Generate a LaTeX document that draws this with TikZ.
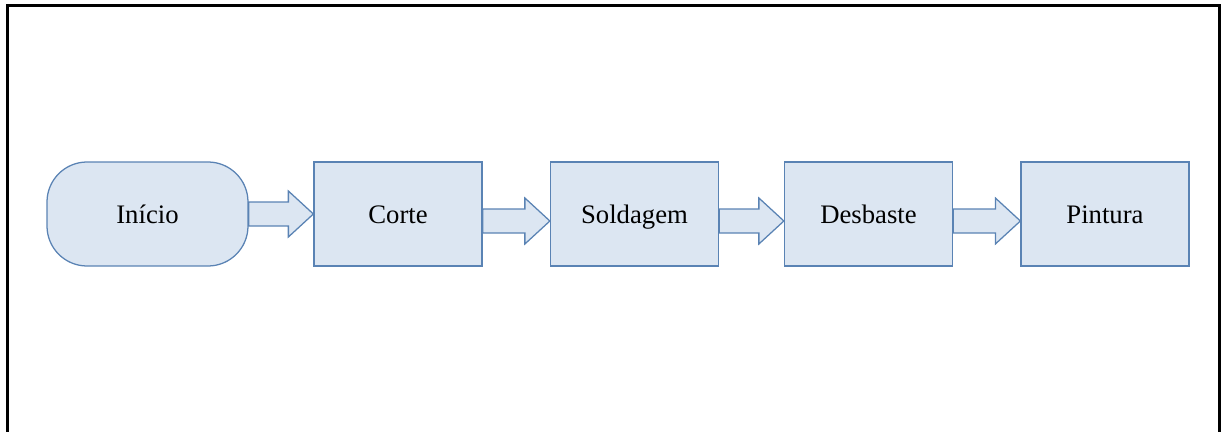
\documentclass[tikz,border=0pt]{standalone}
\usepackage{fontspec}
\setmainfont{Liberation Serif}
\usetikzlibrary{calc}
\definecolor{fundo}{RGB}{220,230,242}
\definecolor{borda}{RGB}{90,131,180}
\tikzset{
  etapa/.style={draw=borda,fill=fundo,line width=0.9pt,minimum width=4.2cm,minimum height=2.6cm,
    text height=0.5cm,text depth=0.05cm,font=\fontsize{19}{22}\selectfont},
  inicio/.style={etapa,minimum width=5.025cm,rounded corners=1cm},
  setabloco/.style={draw=borda,fill=fundo,line width=0.9pt,line join=miter}
}
% seta larga entre duas etapas: origem, destino, desvio vertical
\newcommand\seta[3]{%
  \path ($(#1.east)+(0,#3)$) coordinate (ini) ($(#2.west)+(0,#3)$) coordinate (fim);
  \draw[setabloco] ($(ini)+(0,0.3)$) -- ($(fim)+(-0.625,0.3)$) -- ($(fim)+(-0.625,0.575)$)
    -- (fim) -- ($(fim)+(-0.625,-0.575)$) -- ($(fim)+(-0.625,-0.3)$) -- ($(ini)+(0,-0.3)$) -- cycle;}

\begin{document}
\begin{tikzpicture}
  \useasboundingbox (0,0) rectangle (30.55,-10.8);
  % moldura aberta embaixo
  \draw[line width=2.5pt] (0.1875,-10.8) -- (0.1875,-0.1375) -- (30.4875,-0.1375) -- (30.4875,-10.8);

  \node[inicio] (INICIO) at (3.6875,-5.35) {Início};
  \node[etapa] (CORTE) at (9.95,-5.35) {Corte};
  \node[etapa] (SOLDA) at (15.8625,-5.35) {Soldagem};
  \node[etapa] (DESBASTE) at (21.7125,-5.35) {Desbaste};
  \node[etapa] (PINTURA) at (27.625,-5.35) {Pintura};

  \seta{INICIO}{CORTE}{0}
  \seta{CORTE}{SOLDA}{-0.175}
  \seta{SOLDA}{DESBASTE}{-0.175}
  \seta{DESBASTE}{PINTURA}{-0.175}
\end{tikzpicture}
\end{document}
